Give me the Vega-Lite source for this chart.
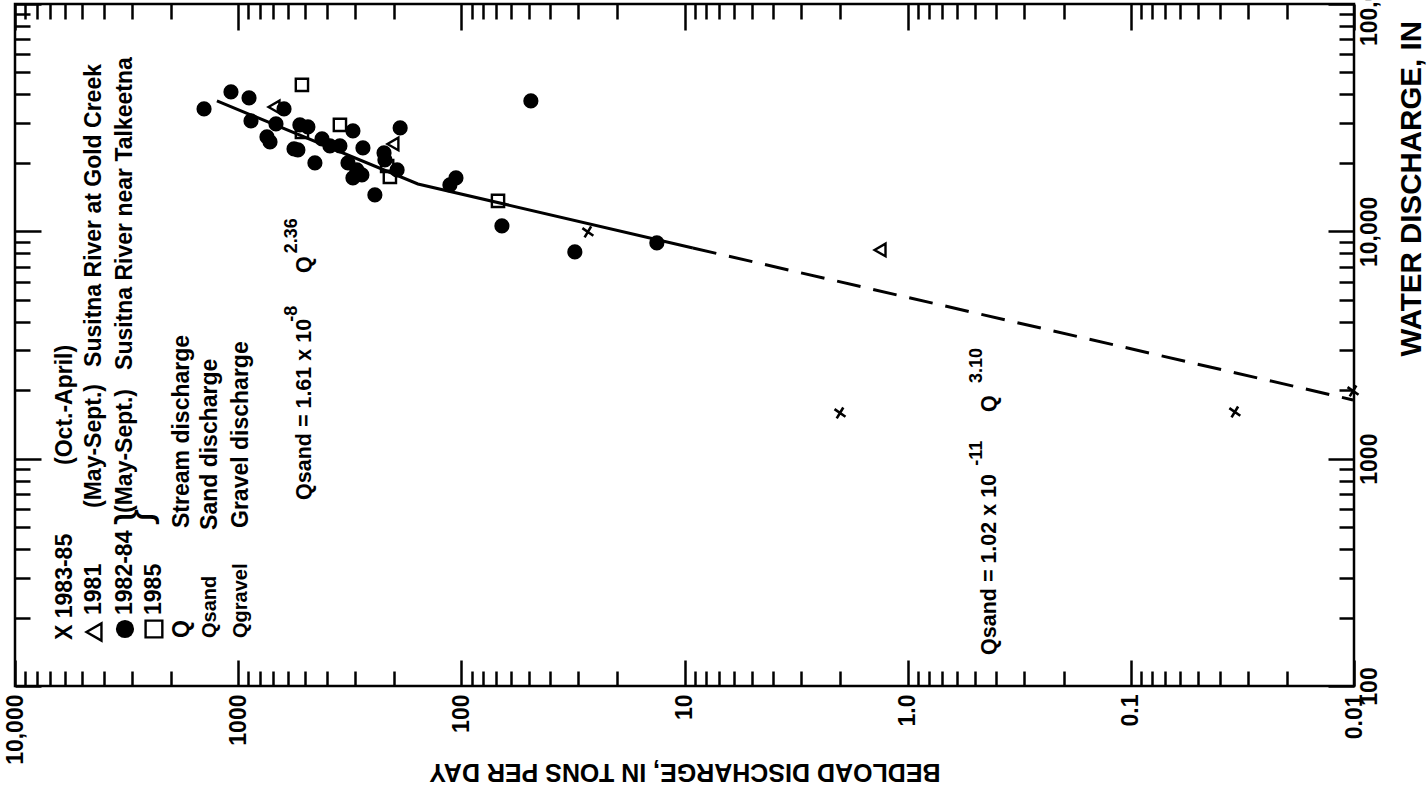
{
  "$schema": "https://vega.github.io/schema/vega-lite/v6.json",
  "width": 1339,
  "height": 682,
  "autosize": {"type": "none"},
  "padding": {"left": 15, "top": 4, "right": 74, "bottom": 104},
  "background": "white",
  "config": {
    "font": "Liberation Sans",
    "view": {"stroke": "black", "strokeWidth": 2.5},
    "axis": {"domain": false, "grid": false, "tickColor": "black", "tickWidth": 2.5, "labelColor": "black", "titleColor": "black", "labelFont": "Liberation Sans", "titleFont": "Liberation Sans", "labelFlush": false, "labelOverlap": false, "labelBound": false}
  },
  "resolve": {"axis": {"x": "independent", "y": "independent"}},
  "datasets": {
    "points": [
      {"B": 1422, "Q": 34550, "series": "1982-84"},
      {"B": 1077, "Q": 41060, "series": "1982-84"},
      {"B": 894, "Q": 38630, "series": "1982-84"},
      {"B": 876, "Q": 30600, "series": "1982-84"},
      {"B": 623, "Q": 34550, "series": "1982-84"},
      {"B": 677, "Q": 29690, "series": "1982-84"},
      {"B": 743, "Q": 26020, "series": "1982-84"},
      {"B": 720, "Q": 24740, "series": "1982-84"},
      {"B": 529, "Q": 29390, "series": "1982-84"},
      {"B": 487, "Q": 28800, "series": "1982-84"},
      {"B": 562, "Q": 23040, "series": "1982-84"},
      {"B": 540, "Q": 22810, "series": "1982-84"},
      {"B": 453, "Q": 19990, "series": "1982-84"},
      {"B": 421, "Q": 25500, "series": "1982-84"},
      {"B": 388, "Q": 23750, "series": "1982-84"},
      {"B": 350, "Q": 23750, "series": "1982-84"},
      {"B": 306, "Q": 27650, "series": "1982-84"},
      {"B": 276, "Q": 23280, "series": "1982-84"},
      {"B": 322, "Q": 19990, "series": "1982-84"},
      {"B": 294, "Q": 18630, "series": "1982-84"},
      {"B": 279, "Q": 17710, "series": "1982-84"},
      {"B": 306, "Q": 17180, "series": "1982-84"},
      {"B": 244, "Q": 14460, "series": "1982-84"},
      {"B": 222, "Q": 22120, "series": "1982-84"},
      {"B": 220, "Q": 20620, "series": "1982-84"},
      {"B": 188, "Q": 28510, "series": "1982-84"},
      {"B": 194, "Q": 18630, "series": "1982-84"},
      {"B": 112.5, "Q": 16000, "series": "1982-84"},
      {"B": 105.7, "Q": 17180, "series": "1982-84"},
      {"B": 65.8, "Q": 10560, "series": "1982-84"},
      {"B": 48.8, "Q": 37470, "series": "1982-84"},
      {"B": 31.0, "Q": 8120, "series": "1982-84"},
      {"B": 13.3, "Q": 8890, "series": "1982-84"},
      {"B": 691, "Q": 35260, "series": "1981"},
      {"B": 202.6, "Q": 24240, "series": "1981"},
      {"B": 1.33, "Q": 8280, "series": "1981"},
      {"B": 518, "Q": 44070, "series": "1985"},
      {"B": 350, "Q": 29390, "series": "1985"},
      {"B": 518, "Q": 27370, "series": "1985"},
      {"B": 215, "Q": 19390, "series": "1985"},
      {"B": 209, "Q": 17350, "series": "1985"},
      {"B": 68.5, "Q": 13610, "series": "1985"},
      {"B": 27.1, "Q": 9940, "series": "1983-85"},
      {"B": 2.01, "Q": 1589, "series": "1983-85"},
      {"B": 0.0342, "Q": 1605, "series": "1983-85"},
      {"B": 0.0101, "Q": 1985, "series": "1983-85"}
    ],
    "fitSolid": [
      {"B": 1245, "Q": 37470},
      {"B": 156.5, "Q": 16160},
      {"B": 9.17, "Q": 8450}
    ],
    "fitDashed": [
      {"B": 9.17, "Q": 8450},
      {"B": 0.0101, "Q": 1813}
    ],
    "legendMarks": [
      {"B": 4428, "Q": 172.8, "series": "1981"},
      {"B": 3215, "Q": 178.1, "series": "1982-84"},
      {"B": 2384, "Q": 178.1, "series": "1985"}
    ],
    "legendText": [
      {"B": 5970, "Q": 159.4, "label": "X 1983-85"},
      {"B": 5970, "Q": 938.3, "label": "(Oct.-April)"},
      {"B": 4428, "Q": 205.3, "label": "1981"},
      {"B": 4428, "Q": 606.9, "label": "(May-Sept.)"},
      {"B": 4428, "Q": 2532, "label": "Susitna River at Gold Creek"},
      {"B": 3215, "Q": 205.3, "label": "1982-84"},
      {"B": 3215, "Q": 576.9, "label": "(May-Sept.)"},
      {"B": 3215, "Q": 2456, "label": "Susitna River near Talkeetna"},
      {"B": 2384, "Q": 205.3, "label": "1985"},
      {"B": 1786, "Q": 162.6, "label": "Q"},
      {"B": 1786, "Q": 495.6, "label": "Stream discharge"},
      {"B": 1338, "Q": 485.7, "label": "Sand discharge"},
      {"B": 971.6, "Q": 495.6, "label": "Gravel discharge"}
    ],
    "legendCodes": [
      {"B": 1338, "Q": 162.6, "label": "Qsand"},
      {"B": 971.6, "Q": 162.6, "label": "Qgravel"}
    ],
    "equations": [
      {"B": 502, "Q": 658.1, "label": "Qsand = 1.61 x 10"},
      {"B": 502, "Q": 6561, "label": "Q"},
      {"B": 0.428, "Q": 136.9, "label": "Qsand = 1.02 x 10"},
      {"B": 0.428, "Q": 1605, "label": "Q"}
    ],
    "exponents": [
      {"B": 575, "Q": 4000, "label": "-8"},
      {"B": 575, "Q": 8000, "label": "2.36"},
      {"B": 0.49, "Q": 930, "label": "-11"},
      {"B": 0.49, "Q": 2150, "label": "3.10"}
    ],
    "brace": [
      {"B": 2900, "Q": 554, "label": "}"}
    ]
  },
  "layer": [
    {
      "data": {"name": "points"},
      "transform": [{"filter": "datum.series === '1982-84'"}],
      "mark": {"type": "point", "shape": "circle", "filled": true, "color": "black", "size": 230, "opacity": 1},
      "encoding": {
        "x": {"field": "B", "type": "quantitative", "scale": {"type": "log", "domain": [0.01, 10000], "reverse": true, "nice": false},
          "axis": {"orient": "bottom", "values": [0.01, 0.1, 1, 10, 100, 1000, 10000], "tickSize": -26,
            "labelExpr": "datum.value >= 10000 ? '10,000' : datum.value == 1 ? '1.0' : '' + datum.value",
            "labelAngle": 270, "labelAlign": "right", "labelBaseline": "middle", "labelPadding": 34, "labelFontSize": 23, "labelFontWeight": "bold",
            "title": "BEDLOAD DISCHARGE, IN TONS PER DAY", "titleAngle": 180, "titleFontSize": 25, "titleFontWeight": "bold",
            "titleX": 669.5, "titleY": 85, "titleAlign": "center", "titleBaseline": "middle"}},
        "y": {"field": "Q", "type": "quantitative", "scale": {"type": "log", "domain": [100, 100000], "nice": false},
          "axis": {"orient": "right", "values": [100, 1000, 10000, 100000], "tickSize": -26,
            "labelExpr": "datum.value >= 10000 ? format(datum.value, ',') : '' + datum.value",
            "labelAngle": 270, "labelAlign": "center", "labelBaseline": "top", "labelPadding": 30, "labelFontSize": 23, "labelFontWeight": "bold",
            "title": "WATER DISCHARGE, IN", "titleAngle": 270, "titleFontSize": 29.5, "titleFontWeight": "bold",
            "titleX": 57, "titleY": 352, "titleAlign": "left", "titleBaseline": "middle"}}
      }
    },
    {
      "data": {"name": "points"},
      "transform": [{"filter": "datum.series === '1981'"}],
      "mark": {"type": "point", "shape": "triangle-left", "filled": false, "stroke": "black", "strokeWidth": 2.4, "size": 160, "opacity": 1},
      "encoding": {
        "x": {"field": "B", "type": "quantitative", "scale": {"type": "log", "domain": [0.01, 10000], "reverse": true, "nice": false},
          "axis": {"orient": "bottom", "values": [0.02, 0.03, 0.04, 0.05, 0.06, 0.07, 0.08, 0.09, 0.2, 0.3, 0.4, 0.5, 0.6, 0.7, 0.8, 0.9, 2, 3, 4, 5, 6, 7, 8, 9, 20, 30, 40, 50, 60, 70, 80, 90, 200, 300, 400, 500, 600, 700, 800, 900, 2000, 3000, 4000, 5000, 6000, 7000, 8000, 9000], "tickSize": -15, "labels": false, "title": null}},
        "y": {"field": "Q", "type": "quantitative", "scale": {"type": "log", "domain": [100, 100000], "nice": false},
          "axis": {"orient": "right", "values": [200, 300, 400, 500, 600, 700, 800, 900, 2000, 3000, 4000, 5000, 6000, 7000, 8000, 9000, 20000, 30000, 40000, 50000, 60000, 70000, 80000, 90000], "tickSize": -15, "labels": false, "title": null}}
      }
    },
    {
      "data": {"name": "points"},
      "transform": [{"filter": "datum.series === '1985'"}],
      "mark": {"type": "point", "shape": "square", "filled": false, "stroke": "black", "strokeWidth": 2.4, "size": 150, "opacity": 1},
      "encoding": {
        "x": {"field": "B", "type": "quantitative", "scale": {"type": "log", "domain": [0.01, 10000], "reverse": true, "nice": false},
          "axis": {"orient": "top", "values": [0.01, 0.1, 1, 10, 100, 1000, 10000], "tickSize": -26, "labels": false, "title": null}},
        "y": {"field": "Q", "type": "quantitative", "scale": {"type": "log", "domain": [100, 100000], "nice": false},
          "axis": {"orient": "left", "values": [100, 1000, 10000, 100000], "tickSize": -26, "labels": false, "title": null}}
      }
    },
    {
      "data": {"name": "points"},
      "transform": [{"filter": "datum.series === '1983-85'"}],
      "mark": {"type": "point", "shape": "M-1,-0.7L1,0.7M-0.6,1L0.6,-1", "filled": false, "stroke": "black", "strokeWidth": 2.6, "size": 120, "opacity": 1},
      "encoding": {
        "x": {"field": "B", "type": "quantitative", "scale": {"type": "log", "domain": [0.01, 10000], "reverse": true, "nice": false},
          "axis": {"orient": "top", "values": [0.02, 0.03, 0.04, 0.05, 0.06, 0.07, 0.08, 0.09, 0.2, 0.3, 0.4, 0.5, 0.6, 0.7, 0.8, 0.9, 2, 3, 4, 5, 6, 7, 8, 9, 20, 30, 40, 50, 60, 70, 80, 90, 200, 300, 400, 500, 600, 700, 800, 900, 2000, 3000, 4000, 5000, 6000, 7000, 8000, 9000], "tickSize": -15, "labels": false, "title": null}},
        "y": {"field": "Q", "type": "quantitative", "scale": {"type": "log", "domain": [100, 100000], "nice": false},
          "axis": {"orient": "left", "values": [200, 300, 400, 500, 600, 700, 800, 900, 2000, 3000, 4000, 5000, 6000, 7000, 8000, 9000, 20000, 30000, 40000, 50000, 60000, 70000, 80000, 90000], "tickSize": -15, "labels": false, "title": null}}
      }
    },
    {
      "data": {"name": "fitSolid"},
      "mark": {"type": "line", "color": "black", "strokeWidth": 3},
      "encoding": {
        "x": {"field": "B", "type": "quantitative", "scale": {"type": "log", "domain": [0.01, 10000], "reverse": true, "nice": false}, "axis": null},
        "y": {"field": "Q", "type": "quantitative", "scale": {"type": "log", "domain": [100, 100000], "nice": false}, "axis": null}
      }
    },
    {
      "data": {"name": "fitDashed"},
      "mark": {"type": "line", "color": "black", "strokeWidth": 3, "strokeDash": [24, 13]},
      "encoding": {
        "x": {"field": "B", "type": "quantitative", "scale": {"type": "log", "domain": [0.01, 10000], "reverse": true, "nice": false}, "axis": null},
        "y": {"field": "Q", "type": "quantitative", "scale": {"type": "log", "domain": [100, 100000], "nice": false}, "axis": null}
      }
    },
    {
      "data": {"name": "legendMarks"},
      "transform": [{"filter": "datum.series === '1982-84'"}],
      "mark": {"type": "point", "shape": "circle", "filled": true, "color": "black", "size": 330, "opacity": 1},
      "encoding": {
        "x": {"field": "B", "type": "quantitative", "axis": null},
        "y": {"field": "Q", "type": "quantitative", "axis": null}
      }
    },
    {
      "data": {"name": "legendMarks"},
      "transform": [{"filter": "datum.series === '1981'"}],
      "mark": {"type": "point", "shape": "triangle-left", "filled": false, "stroke": "black", "strokeWidth": 2.4, "size": 300, "opacity": 1},
      "encoding": {
        "x": {"field": "B", "type": "quantitative", "axis": null},
        "y": {"field": "Q", "type": "quantitative", "axis": null}
      }
    },
    {
      "data": {"name": "legendMarks"},
      "transform": [{"filter": "datum.series === '1985'"}],
      "mark": {"type": "point", "shape": "square", "filled": false, "stroke": "black", "strokeWidth": 2.4, "size": 280, "opacity": 1},
      "encoding": {
        "x": {"field": "B", "type": "quantitative", "axis": null},
        "y": {"field": "Q", "type": "quantitative", "axis": null}
      }
    },
    {
      "data": {"name": "legendText"},
      "mark": {"type": "text", "angle": 270, "align": "left", "baseline": "middle", "fontSize": 23, "fontWeight": "bold", "color": "black", "font": "Liberation Sans"},
      "encoding": {
        "x": {"field": "B", "type": "quantitative", "axis": null},
        "y": {"field": "Q", "type": "quantitative", "axis": null},
        "text": {"field": "label"}
      }
    },
    {
      "data": {"name": "legendCodes"},
      "mark": {"type": "text", "angle": 270, "align": "left", "baseline": "middle", "fontSize": 20, "fontWeight": "bold", "color": "black", "font": "Liberation Sans"},
      "encoding": {
        "x": {"field": "B", "type": "quantitative", "axis": null},
        "y": {"field": "Q", "type": "quantitative", "axis": null},
        "text": {"field": "label"}
      }
    },
    {
      "data": {"name": "equations"},
      "mark": {"type": "text", "angle": 270, "align": "left", "baseline": "middle", "fontSize": 21.5, "fontWeight": "bold", "color": "black", "font": "Liberation Sans"},
      "encoding": {
        "x": {"field": "B", "type": "quantitative", "axis": null},
        "y": {"field": "Q", "type": "quantitative", "axis": null},
        "text": {"field": "label"}
      }
    },
    {
      "data": {"name": "exponents"},
      "mark": {"type": "text", "angle": 270, "align": "left", "baseline": "middle", "fontSize": 18, "fontWeight": "bold", "color": "black", "font": "Liberation Sans"},
      "encoding": {
        "x": {"field": "B", "type": "quantitative", "axis": null},
        "y": {"field": "Q", "type": "quantitative", "axis": null},
        "text": {"field": "label"}
      }
    },
    {
      "data": {"name": "brace"},
      "mark": {"type": "text", "angle": 270, "align": "center", "baseline": "middle", "fontSize": 48, "color": "black", "font": "Liberation Sans"},
      "encoding": {
        "x": {"field": "B", "type": "quantitative", "axis": null},
        "y": {"field": "Q", "type": "quantitative", "axis": null},
        "text": {"field": "label"}
      }
    }
  ]
}
